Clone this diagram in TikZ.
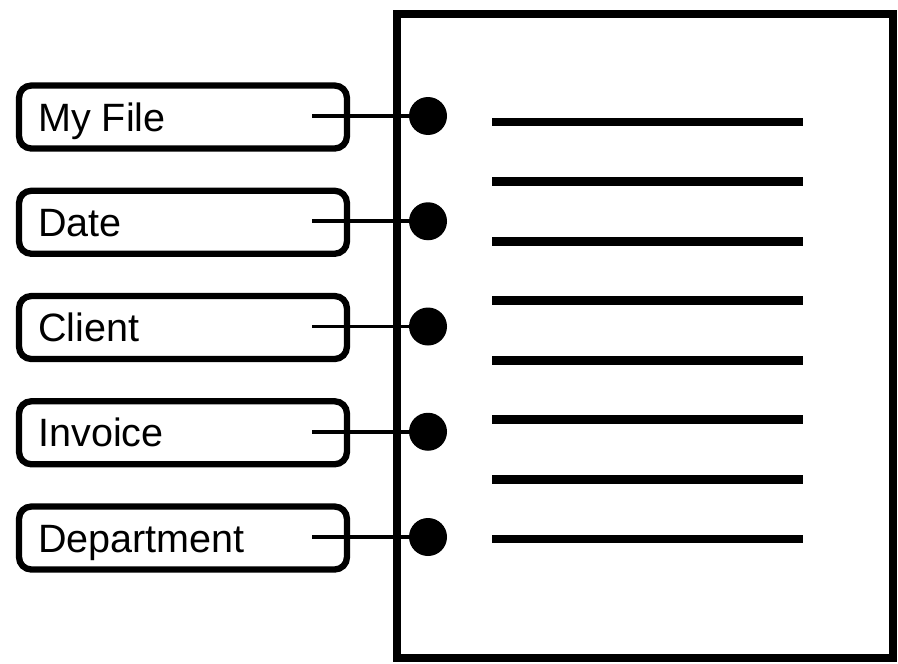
\documentclass[tikz,border=0pt]{standalone}
\usepackage{fontspec}
\setmainfont{Liberation Sans}
\usetikzlibrary{positioning}

\begin{document}
\begin{tikzpicture}[x=0.02cm,y=-0.02cm,
  field/.style={draw,line width=3.6pt,rounded corners=7pt,minimum width=6.56cm,
                minimum height=1.26cm,inner sep=0pt},
  lbl/.style={anchor=base west,inner sep=0pt,font=\fontsize{22.5}{26}\selectfont},
  pin/.style={circle,fill=black,inner sep=0pt,minimum size=0.76cm},
  link/.style={line width=2.1pt},
  rule/.style={line width=5pt}]

  \useasboundingbox (0,0) rectangle (898,663);

  % the page
  \node[draw,line width=4.5pt,minimum width=9.92cm,minimum height=12.88cm,
        inner sep=0pt] (page) at (645,336) {};

  % text lines on the page
  \foreach \i in {0,...,7}
    \draw[rule] (492,{122+59.57*\i}) -- (803,{122+59.57*\i});

  % fields pinned to the page
  \foreach \name [count=\i] in {My File,Date,Client,Invoice,Department} {
    \node[field] (box\i) at (183,{117+105.25*(\i-1)}) {};
    \node[lbl] (txt\i) at (38,{131+105.25*(\i-1)}) {\name};
    \node[pin] (dot\i) at (428,{116+105.25*(\i-1)}) {};
    \coordinate (tail\i) at (312,{116+105.25*(\i-1)});
    \draw[link] (tail\i) -- (dot\i);
  }
\end{tikzpicture}
\end{document}
